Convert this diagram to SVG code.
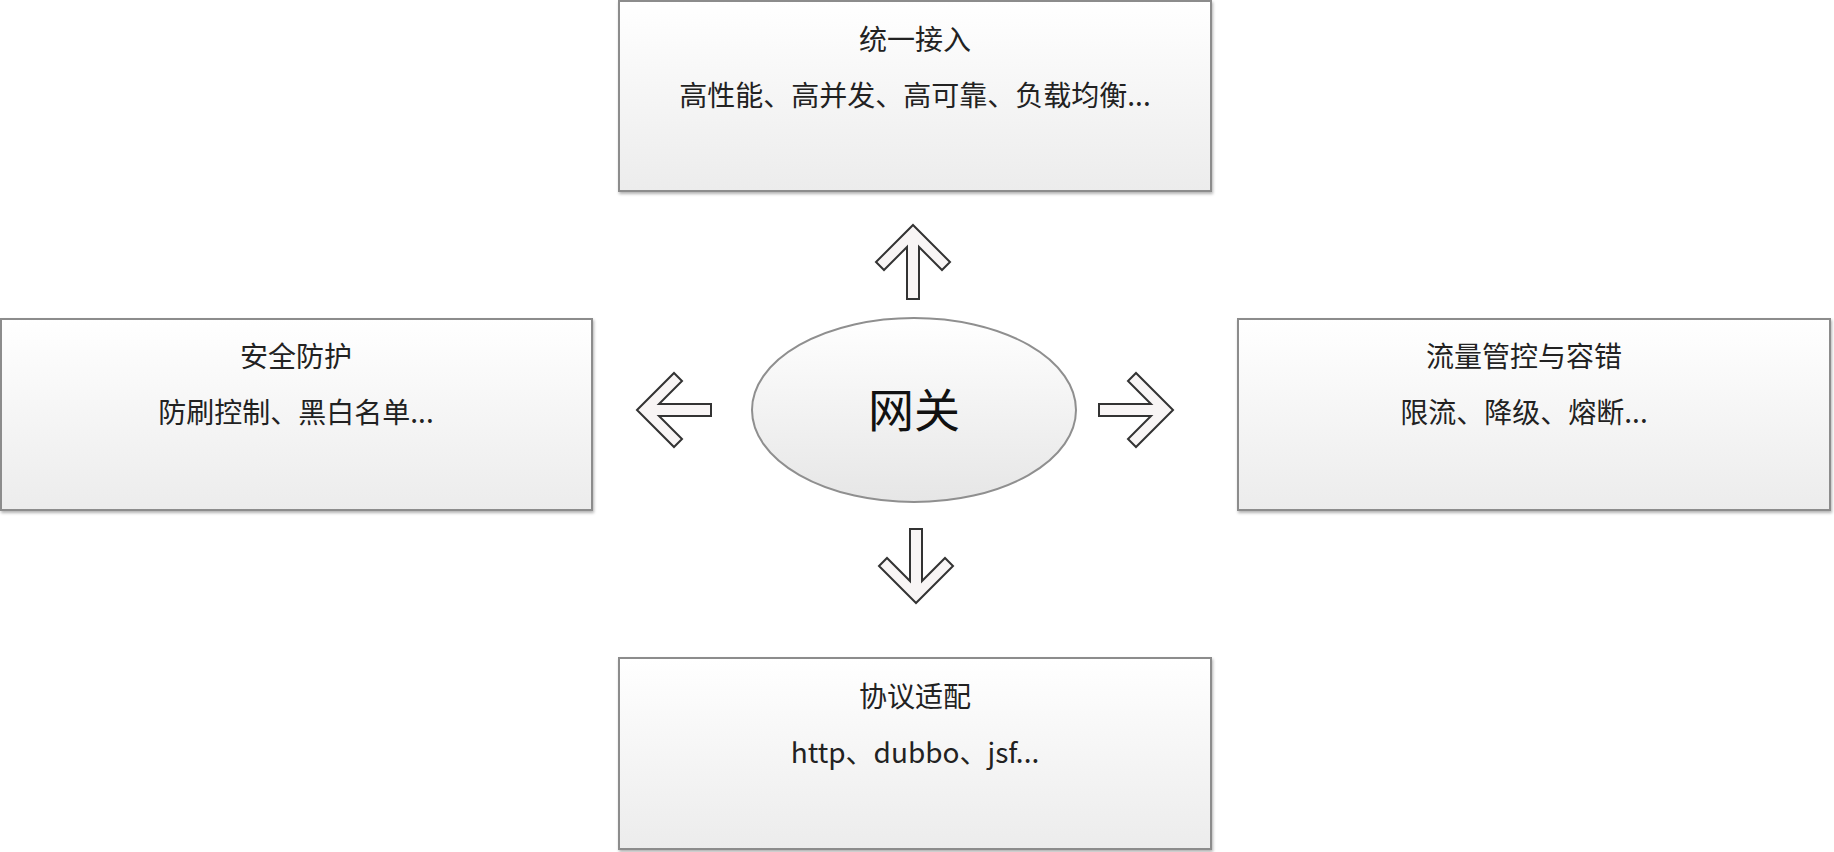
<svg xmlns="http://www.w3.org/2000/svg" width="1834" height="852" viewBox="0 0 1834 852">
<defs>
<linearGradient id="boxg" x1="0" y1="0" x2="0" y2="1">
<stop offset="0" stop-color="#ffffff"/>
<stop offset="1" stop-color="#ececec"/>
</linearGradient>
<linearGradient id="ellg" x1="0" y1="0" x2="0" y2="1">
<stop offset="0" stop-color="#ffffff"/>
<stop offset="1" stop-color="#e6e6e6"/>
</linearGradient>
<filter id="sh" x="-5%" y="-5%" width="110%" height="115%">
<feDropShadow dx="1" dy="2" stdDeviation="1.5" flood-color="#000" flood-opacity="0.3"/>
</filter>
<path id="arrow" d="M0,0 L37,37 L29,45 L6,22 L6,74 L-6,74 L-6,22 L-29,45 L-37,37 Z"/>
</defs>
<style>
.box{fill:url(#boxg);stroke:#8c8c8c;stroke-width:2;filter:url(#sh)}
.ell{fill:url(#ellg);stroke:#8f8f8f;stroke-width:2}
.t{font-family:"Noto Sans CJK SC","Liberation Sans",sans-serif;font-size:28px;fill:#222;text-anchor:middle}
.big{font-family:"Noto Sans CJK SC","Liberation Sans",sans-serif;font-size:46px;fill:#111;text-anchor:middle}
.arr{fill:#f8f5f5;stroke:#333;stroke-width:2;stroke-linejoin:miter}
</style>
<rect width="1834" height="852" fill="#ffffff"/>
<g id="node-top">
<rect class="box" x="619" y="1" width="592" height="190"/>
<text class="t" x="915" y="50">统一接入</text>
<text class="t" x="915" y="106">高性能、高并发、高可靠、负载均衡...</text>
</g>
<g id="node-left">
<rect class="box" x="1" y="319" width="591" height="191"/>
<text class="t" x="296" y="367">安全防护</text>
<text class="t" x="296" y="423">防刷控制、黑白名单...</text>
</g>
<g id="node-right">
<rect class="box" x="1238" y="319" width="592" height="191"/>
<text class="t" x="1524" y="367">流量管控与容错</text>
<text class="t" x="1524" y="423">限流、降级、熔断...</text>
</g>
<g id="node-bottom">
<rect class="box" x="619" y="658" width="592" height="191"/>
<text class="t" x="915" y="707">协议适配</text>
<text class="t" x="915" y="763">http、dubbo、jsf...</text>
</g>
<g id="node-center">
<ellipse class="ell" cx="914" cy="410" rx="162" ry="92"/>
<text class="big" x="914" y="427">网关</text>
</g>
<g id="connectors">
<use href="#arrow" class="arr" transform="translate(913,225)"/>
<use href="#arrow" class="arr" transform="translate(916,603) rotate(180)"/>
<use href="#arrow" class="arr" transform="translate(637,410) rotate(-90)"/>
<use href="#arrow" class="arr" transform="translate(1173,410) rotate(90)"/>
</g>
</svg>
